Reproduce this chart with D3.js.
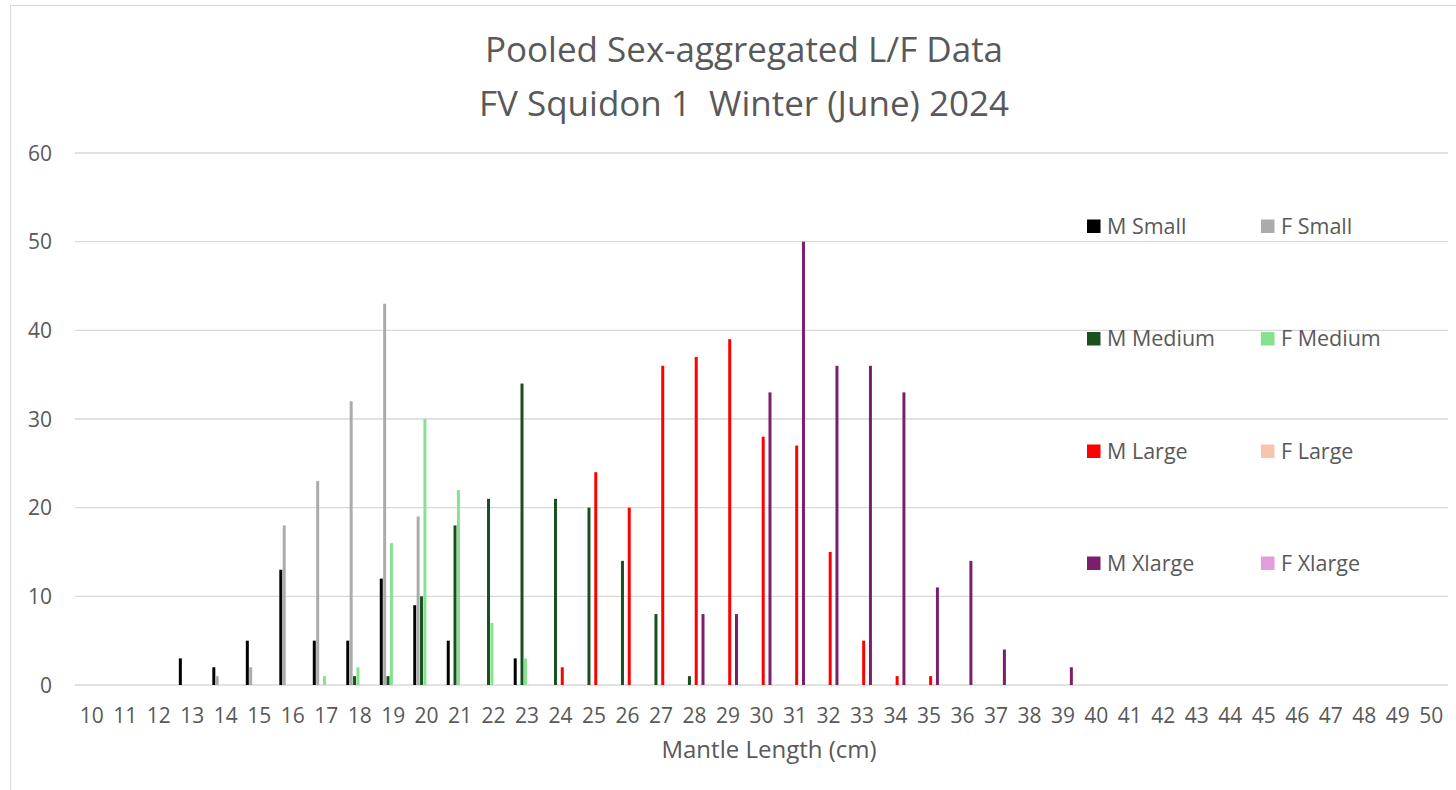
<!DOCTYPE html>
<html>
<head>
<meta charset="utf-8">
<script src="https://cdn.jsdelivr.net/npm/d3@7"></script>
<style>
  html, body { margin: 0; padding: 0; background: #fff; }
  svg { display: block; }
  text { font-family: "Open Sans", "Noto Sans", sans-serif; fill: #595959; white-space: pre; }
</style>
</head>
<body>
<svg id="chart" width="1456" height="790"></svg>
<script>
const titleLines = ["Pooled Sex-aggregated L/F Data", "FV Squidon 1  Winter (June) 2024"];
const xAxisTitle = "Mantle Length (cm)";
const categories = ["10","11","12","13","14","15","16","17","18","19","20","21","22","23","24","25","26","27","28","29","30","31","32","33","34","35","36","37","38","39","40","41","42","43","44","45","46","47","48","49","50"];
const yTicks = [0, 10, 20, 30, 40, 50, 60];
const seriesNames = ["M Small","F Small","M Medium","F Medium","M Large","F Large","M Xlarge","F Xlarge"];
const seriesColors = ["#000000","#ABABAB","#19501F","#86E28E","#FF0000","#F4C6AD","#7A1F6E","#E49DDB"];
//                 10 11 12 13 14 15 16 17 18 19 20 21 22 23 24 25 26 27 28 29 30 31 32 33 34 35 36 37 38 39 40 41 42 43 44 45 46 47 48 49 50
const mSmall   = [ 0, 0, 0, 3, 2, 5,13, 5, 5,12, 9, 5, 0, 3, 0, 0, 0, 0, 0, 0, 0, 0, 0, 0, 0, 0, 0, 0, 0, 0, 0, 0, 0, 0, 0, 0, 0, 0, 0, 0, 0];
const fSmall   = [ 0, 0, 0, 0, 1, 2,18,23,32,43,19, 0, 0, 0, 0, 0, 0, 0, 0, 0, 0, 0, 0, 0, 0, 0, 0, 0, 0, 0, 0, 0, 0, 0, 0, 0, 0, 0, 0, 0, 0];
const mMedium  = [ 0, 0, 0, 0, 0, 0, 0, 0, 1, 1,10,18,21,34,21,20,14, 8, 1, 0, 0, 0, 0, 0, 0, 0, 0, 0, 0, 0, 0, 0, 0, 0, 0, 0, 0, 0, 0, 0, 0];
const fMedium  = [ 0, 0, 0, 0, 0, 0, 0, 1, 2,16,30,22, 7, 3, 0, 0, 0, 0, 0, 0, 0, 0, 0, 0, 0, 0, 0, 0, 0, 0, 0, 0, 0, 0, 0, 0, 0, 0, 0, 0, 0];
const mLarge   = [ 0, 0, 0, 0, 0, 0, 0, 0, 0, 0, 0, 0, 0, 0, 2,24,20,36,37,39,28,27,15, 5, 1, 1, 0, 0, 0, 0, 0, 0, 0, 0, 0, 0, 0, 0, 0, 0, 0];
const fLarge   = [ 0, 0, 0, 0, 0, 0, 0, 0, 0, 0, 0, 0, 0, 0, 0, 0, 0, 0, 0, 0, 0, 0, 0, 0, 0, 0, 0, 0, 0, 0, 0, 0, 0, 0, 0, 0, 0, 0, 0, 0, 0];
const mXlarge  = [ 0, 0, 0, 0, 0, 0, 0, 0, 0, 0, 0, 0, 0, 0, 0, 0, 0, 0, 8, 8,33,50,36,36,33,11,14, 4, 0, 2, 0, 0, 0, 0, 0, 0, 0, 0, 0, 0, 0];
const fXlarge  = [ 0, 0, 0, 0, 0, 0, 0, 0, 0, 0, 0, 0, 0, 0, 0, 0, 0, 0, 0, 0, 0, 0, 0, 0, 0, 0, 0, 0, 0, 0, 0, 0, 0, 0, 0, 0, 0, 0, 0, 0, 0];
const seriesValues = [mSmall, fSmall, mMedium, fMedium, mLarge, fLarge, mXlarge, fXlarge];

const svg = d3.select("#chart");
svg.append("rect").attr("x",0).attr("y",0).attr("width",1456).attr("height",790).attr("fill","#fff");
svg.append("rect").attr("x",10.5).attr("y",5.5).attr("width",1500).attr("height",820)
  .attr("fill","none").attr("stroke","#d9d9d9").attr("stroke-width",1);

const plot = {left: 75, right: 1448, top: 153, bottom: 685};
const x = d3.scaleBand().domain(categories).range([plot.left, plot.right]).paddingInner(0.19).paddingOuter(0.095);
const x1 = d3.scaleBand().domain(seriesNames).range([0, x.bandwidth()]).padding(0);
const y = d3.scaleLinear().domain([0, 60]).range([plot.bottom, plot.top]);

// gridlines
svg.append("g").selectAll("line").data(yTicks).join("line")
  .attr("x1", plot.left).attr("x2", plot.right)
  .attr("y1", d => y(d)).attr("y2", d => y(d))
  .attr("stroke", "#d9d9d9").attr("stroke-width", 1.3);

// y tick labels
svg.append("g").selectAll("text").data(yTicks).join("text")
  .attr("x", 52).attr("y", d => y(d)).attr("dy", "0.36em")
  .attr("text-anchor", "end").style("font-size", "21px").text(d => d);

// bars
seriesNames.forEach((name, si) => {
  svg.append("g").selectAll("rect")
    .data(categories.map((c, i) => ({c, v: seriesValues[si][i]})).filter(d => d.v > 0))
    .join("rect")
    .attr("x", d => x(d.c) + x1(name) + 0.2)
    .attr("width", x1.bandwidth() - 0.4)
    .attr("y", d => y(d.v))
    .attr("height", d => y(0) - y(d.v))
    .attr("fill", seriesColors[si]);
});

// x tick labels
svg.append("g").selectAll("text").data(categories).join("text")
  .attr("x", d => x(d) + x.bandwidth() / 2).attr("y", 723)
  .attr("text-anchor", "middle").style("font-size", "21px").text(d => d);

// x axis title
svg.append("text").attr("x", 769).attr("y", 758)
  .attr("text-anchor", "middle").style("font-size", "24px").text(xAxisTitle);

// title
svg.append("g").selectAll("text").data(titleLines).join("text")
  .attr("x", 744).attr("y", (d, i) => 61.5 + i * 54.5)
  .attr("text-anchor", "middle").style("font-size", "35px").text(d => d);

// legend
const legendCols = [1087, 1261];
const legendRows = [226, 338.5, 451, 563];
const legend = svg.append("g");
seriesNames.forEach((name, i) => {
  const cx = legendCols[i % 2], cy = legendRows[Math.floor(i / 2)];
  legend.append("rect").attr("x", cx).attr("y", cy - 6.5).attr("width", 13.5).attr("height", 13.5)
    .attr("fill", seriesColors[i]);
  legend.append("text").attr("x", cx + 20).attr("y", cy).attr("dy", "0.36em")
    .style("font-size", "21.5px").text(name);
});
</script>
</body>
</html>
